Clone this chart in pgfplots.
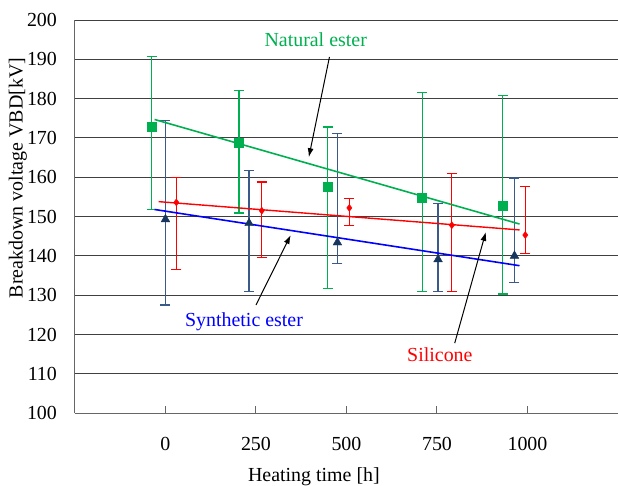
\documentclass[border=0pt]{standalone}
\usepackage{fontspec}
\setmainfont{Liberation Serif}
\usepackage{pgfplots}
\pgfplotsset{compat=1.18}
\usetikzlibrary{arrows.meta}
\definecolor{natgreen}{HTML}{00B050}
\definecolor{silred}{HTML}{FF0000}
\definecolor{synblue}{HTML}{0000FF}
\definecolor{synnavy}{HTML}{17365D}
\definecolor{synbar}{HTML}{3A5A8A}
\begin{document}
\begin{tikzpicture}
\begin{axis}[
    scale only axis, width=543bp, height=393bp,
    xmin=-250, xmax=1250, ymin=100, ymax=200,
    axis x line=bottom, axis y line=left,
    axis line style={-, gray!80!black, line width=1pt},
    xtick={0,250,500,750,1000}, ytick={100,110,...,200},
    ymajorgrids, grid style={black!75, line width=1pt},
    xtick align=inside, major tick length=7bp,
    x tick style={gray!80!black, line width=1pt},
    y tick style={draw=none},
    /pgf/number format/assume math mode=true,
    /pgf/number format/1000 sep={},
    tick label style={font=\fontsize{20}{23}\selectfont},
    xticklabel style={yshift=-21bp},
    yticklabel style={xshift=-11bp},
    xlabel={Heating time [h]},
    ylabel={Breakdown voltage VBD[kV]},
    label style={font=\fontsize{20}{23}\selectfont},
    xlabel style={at={(axis description cs:0.44,-0.13)}, anchor=north},
    ylabel style={at={(axis description cs:-0.105,0.598)}, anchor=center},
    clip=false,
    error bars/y dir=both, error bars/y explicit,
]
\coordinate (bl) at (rel axis cs:-0.138,-0.183);
\coordinate (tr) at (rel axis cs:1,1.051);

% natural ester
\addplot[natgreen, only marks, mark=square*, mark size=4.5bp,
  error bars/.cd,
  error bar style={natgreen, line width=1.2pt},
  error mark options={natgreen, line width=1.2pt, mark size=5bp, rotate=90}]
  coordinates {
  (-38,172.8) += (0,18.0) -= (0,21.1)
  (203,168.7) += (0,13.3) -= (0,17.8)
  (448,157.6) += (0,15.2) -= (0,26.0)
  (709,154.8) += (0,26.7) -= (0,23.9)
  (931,152.8) += (0,27.9) -= (0,22.5)
  };
% synthetic ester
\addplot[synnavy, only marks, mark=triangle*, mark size=5bp,
  error bars/.cd,
  error bar style={synbar, line width=1.2pt},
  error mark options={synbar, line width=1.2pt, mark size=5bp, rotate=90}]
  coordinates {
  (0,149.3) += (0,25.1) -= (0,21.8)
  (231,148.3) += (0,13.4) -= (0,17.3)
  (475,143.4) += (0,27.8) -= (0,5.3)
  (753,139.1) += (0,14.3) -= (0,8.1)
  (964,140.0) += (0,19.8) -= (0,6.8)
  };
% silicone
\addplot[silred, only marks, mark=diamond*, mark size=3.5bp,
  error bars/.cd,
  error bar style={silred, line width=1.2pt},
  error mark options={silred, line width=1.2pt, mark size=5bp, rotate=90}]
  coordinates {
  (30,153.6) += (0,6.3) -= (0,17.0)
  (266,151.5) += (0,7.3) -= (0,11.9)
  (508,152.2) += (0,2.4) -= (0,4.4)
  (791,147.8) += (0,13.2) -= (0,16.9)
  (994,145.3) += (0,12.3) -= (0,4.7)
  };

% trend lines
\addplot[natgreen, line width=1.6pt, no marks] coordinates {(-30,174.7) (978,148.1)};
\addplot[silred, line width=1.4pt, no marks] coordinates {(-19,153.8) (978,146.6)};
\addplot[synblue, line width=1.6pt, no marks] coordinates {(-30,151.8) (978,137.5)};

% annotations
\node[natgreen, font=\fontsize{20}{23}\selectfont] at (axis cs:415,194.9) {Natural ester};
\node[synblue, font=\fontsize{20}{23}\selectfont] at (axis cs:217,123.2) {Synthetic ester};
\node[silred, font=\fontsize{20}{23}\selectfont] at (axis cs:758,114.8) {Silicone};
\draw[-{Latex[length=9bp,width=6bp]}, line width=1pt] (axis cs:453,190.6) -- (axis cs:396,165.1);
\draw[-{Latex[length=9bp,width=6bp]}, line width=1pt] (axis cs:250,127.5) -- (axis cs:346,145.3);
\draw[-{Latex[length=9bp,width=6bp]}, line width=1pt] (axis cs:799,117.8) -- (axis cs:885,146.1);
\end{axis}
\pgfresetboundingbox
\useasboundingbox (bl) rectangle (tr);
\end{tikzpicture}
\end{document}
